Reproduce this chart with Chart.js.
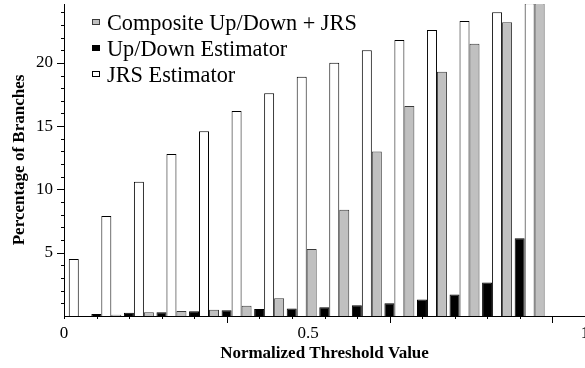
<!DOCTYPE html>
<html><head><meta charset="utf-8">
<script src="https://cdn.jsdelivr.net/npm/chart.js@4.4.0/dist/chart.umd.min.js"></script>
<style>html,body{margin:0;padding:0;background:#fff}</style>
</head><body>
<canvas id="c" width="585" height="368"></canvas>
<script>
// ---- data ----
const categories = [0,1,2,3,4,5,6,7,8,9,10,11,12,13,14];           // threshold steps
const compositeValues = [0, 0.1, 0.3, 0.4, 0.5, 0.8, 1.4, 5.3, 8.4, 13.0, 16.6, 19.3, 21.5, 23.2, 24.7];
const upDownValues    = [0, 0.15, 0.25, 0.3, 0.37, 0.45, 0.55, 0.6, 0.7, 0.85, 1.0, 1.3, 1.7, 2.65, 6.15];
const jrsValues       = [4.5, 7.9, 10.6, 12.8, 14.6, 16.2, 17.6, 18.9, 20.0, 21.0, 21.8, 22.6, 23.3, 24.0, 24.7];
const seriesNames = ['Composite Up/Down + JRS', 'Up/Down Estimator', 'JRS Estimator'];
const xTickValues = [0, 7.5, 16];
const xTickLabels = ['0', '0.5', '1'];
const yTickStep = 5;

// ---- layout / style constants ----
const SERIF = "'Liberation Serif','Times New Roman','DejaVu Serif',serif";
const groupOffset = 0.3;
const xMax = 16, yMax = 24.65;

const pts = vals => vals.map((v, i) => ({x: categories[i] + groupOffset, y: v}));

const styles = {
  composite: {bg: '#c0c0c0', border: '#3a3a3a'},
  updown:    {bg: '#000000', border: '#000000'},
  jrs:       {bg: '#ffffff', border: '#000000'}
};

const tickPlugin = {
  id: 'tickMarks',
  afterDraw(chart) {
    const {ctx, scales: {x, y}} = chart;
    ctx.save();
    ctx.strokeStyle = '#000';
    ctx.lineWidth = 1;
    ctx.beginPath();
    for (let v = 0; v <= xMax; v++) {
      const px = Math.round(x.getPixelForValue(v)) + 0.5;
      const len = (v > 0 && v % 5 === 0) ? 7 : 3;
      ctx.moveTo(px, y.bottom); ctx.lineTo(px, y.bottom + len);
    }
    for (let v = 1; v <= Math.floor(yMax); v++) {
      const py = Math.round(y.getPixelForValue(v)) + 0.5;
      const len = (v % 5 === 0) ? 7 : 3;
      ctx.moveTo(x.left - len, py); ctx.lineTo(x.left, py);
    }
    ctx.stroke();
    ctx.restore();
  }
};

const legendPlugin = {
  id: 'insideLegend',
  afterDraw(chart) {
    const {ctx} = chart;
    const order = [2, 0, 1]; // composite, up/down, jrs
    ctx.save();
    ctx.font = '22.3px ' + SERIF;
    ctx.textBaseline = 'alphabetic';
    ctx.textAlign = 'left';
    const boxX = 92, textX = 107, base0 = 30, pitch = 26;
    order.forEach((di, k) => {
      const ds = chart.data.datasets[di];
      const base = base0 + k * pitch;
      ctx.fillStyle = ds.backgroundColor;
      ctx.fillRect(boxX, base - 11, 8, 6);
      ctx.strokeStyle = ds.borderColor;
      ctx.lineWidth = 1;
      ctx.strokeRect(boxX + 0.5, base - 10.5, 7, 5);
      ctx.fillStyle = '#000';
      ctx.fillText(ds.label, textX, base);
    });
    ctx.restore();
  }
};

new Chart(document.getElementById('c'), {
  type: 'bar',
  data: {
    datasets: [
      {label: seriesNames[1], data: pts(upDownValues), backgroundColor: styles.updown.bg, borderColor: styles.updown.border},
      {label: seriesNames[2], data: pts(jrsValues), backgroundColor: styles.jrs.bg, borderColor: styles.jrs.border},
      {label: seriesNames[0], data: pts(compositeValues), backgroundColor: styles.composite.bg, borderColor: styles.composite.border}
    ]
  },
  options: {
    responsive: false,
    animation: false,
    layout: {padding: {top: 4, left: 0, right: 0, bottom: 0}},
    plugins: {legend: {display: false}, tooltip: {enabled: false}},
    datasets: {bar: {categoryPercentage: 0.92, barPercentage: 1, borderWidth: 1, borderSkipped: 'start'}},
    scales: {
      x: {
        type: 'linear', min: 0, max: xMax, z: 1, offset: false,
        grid: {display: false, drawTicks: false, offset: false},
        border: {display: true, color: '#000', width: 1},
        afterBuildTicks: s => { s.ticks = xTickValues.map(v => ({value: v})); },
        afterFit: s => { s.height = 52; s.paddingLeft = 0; s.paddingRight = 0; },
        ticks: {autoSkip: false, maxRotation: 0, padding: 7, color: '#000',
                font: {family: SERIF, size: 17},
                callback: (v, i) => xTickLabels[i]},
        title: {display: true, text: 'Normalized Threshold Value', color: '#000',
                font: {family: SERIF, size: 17, weight: 'bold'}, padding: {top: 0, bottom: 4}}
      },
      y: {
        min: 0, max: yMax, z: 1,
        grid: {display: false, drawTicks: false},
        border: {display: true, color: '#000', width: 1},
        afterFit: s => { s.width = 64; s.paddingTop = 0; s.paddingBottom = 0; },
        ticks: {stepSize: yTickStep, includeBounds: false, padding: 11, color: '#000',
                font: {family: SERIF, size: 17},
                callback: v => (v === 0 ? '' : String(v))},
        title: {display: true, text: 'Percentage of Branches', color: '#000',
                font: {family: SERIF, size: 17, weight: 'bold'}, padding: {top: 9, bottom: 0}}
      }
    }
  },
  plugins: [tickPlugin, legendPlugin]
});
</script>
</body></html>
